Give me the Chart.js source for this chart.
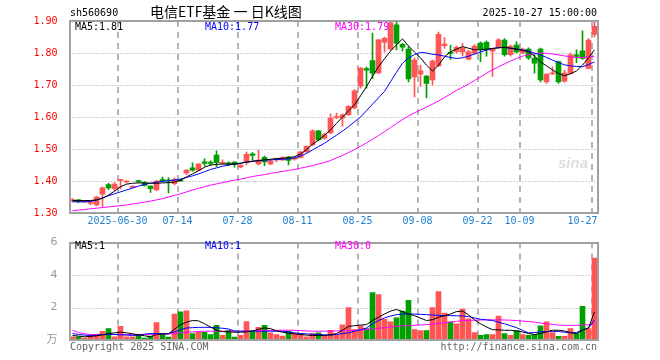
<!DOCTYPE html>
<html>
<head>
<meta charset="utf-8">
<title>电信ETF基金 日K线图</title>
<script src="https://cdn.jsdelivr.net/npm/chart.js@4.4.0/dist/chart.umd.min.js"></script>
<style>
html, body { margin: 0; padding: 0; background: #fff; }
#wrap { position: relative; width: 660px; height: 360px; }
canvas { position: absolute; left: 0; }
#kline { top: 0; }
#vol { top: 232px; }
</style>
</head>
<body>
<div id="wrap">
  <canvas id="kline" width="660" height="232"></canvas>
  <canvas id="vol" width="660" height="128"></canvas>
</div>
<script>
// 交易日
const dates = [
  '06-18','06-19','06-20','06-23','06-24','06-25','06-26','06-27','06-30',
  '07-01','07-02','07-03','07-04','07-07','07-08','07-09','07-10','07-11','07-14',
  '07-15','07-16','07-17','07-18','07-21','07-22','07-23','07-24','07-25','07-28',
  '07-29','07-30','07-31','08-01','08-04','08-05','08-06','08-07','08-08','08-11',
  '08-12','08-13','08-14','08-15','08-18','08-19','08-20','08-21','08-22','08-25',
  '08-26','08-27','08-28','08-29','09-01','09-02','09-03','09-04','09-05','09-08',
  '09-09','09-10','09-11','09-12','09-15','09-16','09-17','09-18','09-19','09-22',
  '09-23','09-24','09-25','09-26','09-29','09-30','10-09',
  '10-10','10-13','10-14','10-15','10-16','10-17','10-20','10-21','10-22','10-23','10-24','10-27'
];
const tickDates = ['06-30','07-14','07-28','08-11','08-25','09-08','09-22','10-09','10-27'];
const tickText = ['2025-06-30','07-14','07-28','08-11','08-25','09-08','09-22','10-09','10-27'];

const open = [
  1.338,1.341,1.335,1.330,1.325,1.359,1.389,1.376,1.402,1.397,
  1.380,1.400,1.395,1.384,1.372,1.403,1.403,1.392,1.402,1.425,
  1.441,1.434,1.460,1.459,1.481,1.455,1.457,1.459,1.444,1.457,
  1.485,1.453,1.474,1.453,1.466,1.466,1.475,1.468,1.474,1.491,
  1.513,1.557,1.534,1.550,1.598,1.597,1.607,1.628,1.696,1.751,
  1.776,1.738,1.834,1.813,1.888,1.827,1.812,1.725,1.734,1.728,
  1.716,1.760,1.823,1.801,1.804,1.803,1.781,1.800,1.831,1.833,
  1.806,1.818,1.840,1.795,1.825,1.800,1.812,1.783,1.812,1.710,
  1.735,1.773,1.712,1.737,1.794,1.807,1.752,1.858
];
const high = [
  1.345,1.343,1.338,1.337,1.352,1.381,1.393,1.395,1.406,1.401,
  1.386,1.403,1.398,1.386,1.402,1.412,1.411,1.410,1.405,1.436,
  1.457,1.455,1.469,1.463,1.494,1.466,1.460,1.461,1.451,1.490,
  1.489,1.497,1.478,1.466,1.472,1.476,1.477,1.475,1.493,1.510,
  1.560,1.558,1.550,1.610,1.612,1.610,1.636,1.686,1.755,1.756,
  1.862,1.843,1.850,1.899,1.900,1.830,1.820,1.785,1.762,1.730,
  1.778,1.865,1.848,1.825,1.822,1.830,1.808,1.826,1.835,1.838,
  1.815,1.845,1.845,1.825,1.835,1.815,1.816,1.796,1.815,1.735,
  1.757,1.775,1.747,1.800,1.810,1.869,1.845,1.900
];
const low = [
  1.335,1.333,1.332,1.325,1.322,1.320,1.373,1.370,1.375,1.393,
  1.378,1.395,1.384,1.364,1.370,1.398,1.363,1.388,1.398,1.420,
  1.430,1.432,1.446,1.449,1.445,1.452,1.448,1.443,1.441,1.450,
  1.464,1.450,1.448,1.450,1.460,1.464,1.450,1.465,1.472,1.489,
  1.510,1.526,1.530,1.548,1.595,1.571,1.605,1.625,1.690,1.690,
  1.720,1.735,1.803,1.810,1.810,1.806,1.710,1.663,1.695,1.660,
  1.700,1.757,1.815,1.780,1.800,1.790,1.778,1.795,1.773,1.790,
  1.727,1.815,1.790,1.790,1.800,1.797,1.780,1.737,1.710,1.705,
  1.733,1.705,1.708,1.735,1.770,1.780,1.750,1.850
];
const close = [
  1.342,1.335,1.336,1.335,1.350,1.379,1.378,1.390,1.405,1.400,
  1.383,1.398,1.386,1.376,1.400,1.401,1.400,1.405,1.400,1.434,
  1.434,1.453,1.455,1.455,1.457,1.458,1.452,1.451,1.449,1.483,
  1.480,1.465,1.460,1.462,1.470,1.473,1.464,1.472,1.491,1.508,
  1.557,1.529,1.545,1.597,1.600,1.607,1.633,1.682,1.753,1.746,
  1.737,1.841,1.846,1.894,1.830,1.818,1.719,1.778,1.744,1.705,
  1.775,1.858,1.828,1.799,1.818,1.815,1.804,1.822,1.812,1.812,
  1.812,1.841,1.795,1.821,1.803,1.812,1.785,1.768,1.716,1.734,
  1.737,1.710,1.737,1.794,1.789,1.783,1.840,1.883
];
// 成交量（万）
const volume = [
  0.20,0.20,0.12,0.28,0.34,0.54,0.70,0.20,0.84,0.20,
  0.20,0.28,0.12,0.24,1.08,0.32,0.18,1.60,1.74,1.80,
  0.40,0.48,0.48,0.34,0.90,0.28,0.60,0.18,0.28,1.14,
  0.52,0.78,0.90,0.44,0.34,0.24,0.54,0.40,0.40,0.20,
  0.40,0.44,0.28,0.60,0.34,0.94,2.00,0.64,0.88,0.70,
  2.92,2.80,1.28,1.12,1.36,1.78,2.44,0.64,0.58,0.58,
  2.00,2.98,1.66,1.12,1.00,1.90,1.30,0.46,0.28,0.34,
  0.34,1.48,0.40,0.28,0.58,0.34,0.28,0.34,0.88,1.12,
  0.46,0.22,0.22,0.70,0.40,2.08,0.70,5.04
];

const ma5 = [
  1.339,1.339,1.339,1.339,1.341,1.346,1.356,1.368,1.382,1.390,
  1.393,1.394,1.394,1.393,1.393,1.394,1.395,1.397,1.402,1.413,
  1.422,1.432,1.443,1.450,1.452,1.453,1.453,1.453,1.455,1.459,
  1.462,1.464,1.466,1.468,1.470,1.471,1.473,1.476,1.484,1.498,
  1.515,1.528,1.543,1.560,1.580,1.600,1.619,1.638,1.666,1.695,
  1.727,1.757,1.782,1.806,1.826,1.844,1.822,1.803,1.785,1.762,
  1.744,1.762,1.788,1.804,1.812,1.820,1.815,1.810,1.810,1.812,
  1.814,1.816,1.818,1.815,1.812,1.808,1.804,1.790,1.772,1.760,
  1.747,1.736,1.729,1.735,1.744,1.762,1.785,1.810
];
const ma10 = [
  1.335,1.335,1.335,1.336,1.340,1.347,1.354,1.360,1.366,1.372,
  1.378,1.384,1.389,1.393,1.396,1.399,1.401,1.403,1.406,1.411,
  1.416,1.422,1.429,1.436,1.441,1.446,1.450,1.453,1.456,1.459,
  1.461,1.463,1.465,1.466,1.467,1.468,1.469,1.472,1.478,1.486,
  1.497,1.508,1.518,1.531,1.543,1.556,1.570,1.585,1.600,1.620,
  1.640,1.660,1.680,1.710,1.740,1.768,1.785,1.795,1.802,1.800,
  1.796,1.794,1.790,1.786,1.783,1.785,1.790,1.797,1.803,1.809,
  1.814,1.817,1.817,1.815,1.812,1.810,1.806,1.800,1.794,1.786,
  1.778,1.770,1.763,1.760,1.758,1.757,1.764,1.772
];
const ma30 = [
  1.307,1.309,1.311,1.313,1.315,1.317,1.319,1.321,1.323,1.325,
  1.328,1.331,1.334,1.337,1.341,1.345,1.350,1.355,1.360,1.366,
  1.372,1.377,1.382,1.387,1.391,1.395,1.399,1.403,1.406,1.410,
  1.414,1.417,1.420,1.424,1.427,1.430,1.433,1.436,1.440,1.444,
  1.448,1.453,1.458,1.464,1.472,1.480,1.489,1.498,1.508,1.519,
  1.530,1.542,1.554,1.567,1.580,1.592,1.603,1.613,1.622,1.631,
  1.640,1.650,1.661,1.672,1.683,1.693,1.703,1.714,1.725,1.737,
  1.747,1.757,1.766,1.775,1.783,1.790,1.795,1.798,1.800,1.799,
  1.797,1.794,1.791,1.788,1.786,1.786,1.788,1.790
];
const volMa5 = [
  0.28,0.24,0.20,0.22,0.26,0.32,0.40,0.44,0.48,0.44,
  0.38,0.32,0.26,0.20,0.34,0.36,0.38,0.66,0.94,1.10,
  1.20,1.18,1.00,0.80,0.60,0.52,0.50,0.48,0.48,0.50,
  0.56,0.66,0.74,0.70,0.56,0.48,0.42,0.38,0.34,0.30,
  0.28,0.28,0.28,0.32,0.40,0.60,0.84,0.88,0.92,0.95,
  1.20,1.40,1.60,1.78,1.88,1.75,1.60,1.50,1.35,1.20,
  1.25,1.40,1.50,1.60,1.75,1.78,1.55,1.24,1.00,0.80,
  0.64,0.62,0.60,0.60,0.56,0.50,0.40,0.34,0.40,0.50,
  0.60,0.60,0.56,0.45,0.40,0.60,0.74,1.74
];
const volMa10 = [
  0.40,0.34,0.30,0.28,0.30,0.32,0.34,0.34,0.32,0.30,
  0.28,0.30,0.36,0.40,0.40,0.40,0.40,0.50,0.64,0.74,
  0.76,0.78,0.78,0.78,0.76,0.72,0.68,0.56,0.54,0.54,
  0.54,0.54,0.54,0.54,0.54,0.54,0.50,0.44,0.40,0.38,
  0.36,0.34,0.32,0.30,0.34,0.40,0.44,0.54,0.64,0.74,
  1.00,1.20,1.36,1.48,1.56,1.60,1.60,1.60,1.58,1.56,
  1.54,1.52,1.50,1.50,1.49,1.48,1.44,1.36,1.28,1.24,
  1.20,1.10,1.00,0.88,0.76,0.60,0.44,0.46,0.50,0.52,
  0.54,0.52,0.48,0.44,0.46,0.62,0.74,1.24
];
const volMa30 = [
  0.60,0.46,0.38,0.34,0.34,0.34,0.34,0.34,0.34,0.34,
  0.34,0.34,0.34,0.34,0.35,0.36,0.37,0.40,0.44,0.48,
  0.50,0.52,0.54,0.54,0.54,0.54,0.54,0.54,0.54,0.55,
  0.56,0.57,0.58,0.60,0.60,0.60,0.60,0.60,0.58,0.56,
  0.54,0.54,0.54,0.55,0.56,0.57,0.58,0.59,0.60,0.64,
  0.68,0.72,0.76,0.80,0.84,0.87,0.89,0.91,0.93,0.95,
  0.98,1.02,1.06,1.10,1.15,1.19,1.21,1.22,1.23,1.24,
  1.24,1.24,1.23,1.22,1.20,1.17,1.14,1.10,1.05,1.00,
  0.96,0.92,0.90,0.90,0.90,0.92,0.94,1.00
];

const UP = '#ff5555';
const DOWN = '#00a000';
const FRAME = '#a0a0a0';
const MONO = '"DejaVu Sans Mono", monospace';

const candleColors = close.map((c, i) => c >= open[i] ? UP : DOWN);
const bodies = open.map((o, i) => [o, close[i]]);
const wicks = low.map((l, i) => [l, high[i]]);
const tickIdx = tickDates.map(d => dates.indexOf(d));

Chart.defaults.font.family = MONO;
Chart.defaults.font.size = 10;

function lineSet(data, color) {
    return {
        type: 'line', data: data, borderColor: color, borderWidth: 1,
        pointRadius: 0, tension: 0, fill: false, order: 0
    };
}

// 网格：日期处竖虚线，价格/成交量刻度处横点线
const gridPlugin = {
    id: 'sinaGrid',
    beforeDatasetsDraw(chart) {
        const { ctx, chartArea: a, scales: { x, y } } = chart;
        const slot = (a.right - a.left) / dates.length;
        ctx.save();
        ctx.strokeStyle = '#b4b4b4';
        ctx.lineWidth = 2;
        ctx.setLineDash([6, 5]);
        tickIdx.forEach(idx => {
            const px = Math.round(x.getPixelForValue(idx) - slot / 2);
            ctx.beginPath();
            ctx.moveTo(px, a.top);
            ctx.lineTo(px, a.bottom);
            ctx.stroke();
        });
        ctx.strokeStyle = '#a0a0a0';
        ctx.lineWidth = 1;
        ctx.setLineDash([1, 2]);
        y.ticks.forEach(t => {
            if (t.value <= y.min + 1e-6 || t.value >= y.max - 1e-6) return;
            const py = Math.round(y.getPixelForValue(t.value)) + 0.5;
            ctx.beginPath();
            ctx.moveTo(a.left, py);
            ctx.lineTo(a.right, py);
            ctx.stroke();
        });
        ctx.restore();
    }
};

function drawFrame(ctx, a) {
    const l = Math.round(a.left), t = Math.round(a.top);
    const r = Math.round(a.right), b = Math.round(a.bottom);
    ctx.strokeStyle = FRAME;
    ctx.lineWidth = 2;
    ctx.strokeRect(l, t, r - l, b - t);
}

const klineDecor = {
    id: 'klineDecor',
    afterDraw(chart) {
        const { ctx, chartArea: a, scales: { x } } = chart;
        ctx.save();
        drawFrame(ctx, a);

        // 标题
        ctx.textBaseline = 'alphabetic';
        ctx.fillStyle = '#000';
        ctx.font = '10px ' + MONO;
        ctx.textAlign = 'left';
        ctx.fillText('sh560690', 70, 16);
        ctx.textAlign = 'right';
        ctx.fillText('2025-10-27 15:00:00', 597, 16);
        ctx.textAlign = 'left';
        ctx.font = '14px "Noto Sans CJK SC"';
        ctx.fillText('电信ETF基金 一 日K线图', 150, 17);

        // 均线数值
        ctx.font = '10px ' + MONO;
        ctx.textBaseline = 'middle';
        ctx.fillStyle = '#000';
        ctx.fillText('MA5:1.81', 75, 27);
        ctx.fillStyle = '#0000ff';
        ctx.fillText('MA10:1.77', 205, 27);
        ctx.fillStyle = '#ff00ff';
        ctx.fillText('MA30:1.79', 335, 27);

        // 日期标签
        const slot = (a.right - a.left) / dates.length;
        ctx.fillStyle = '#1f7fd0';
        tickIdx.forEach((idx, k) => {
            const px = x.getPixelForValue(idx) - slot / 2;
            const w = ctx.measureText(tickText[k]).width;
            let left = px - w / 2;
            if (left + w > a.right) left = a.right - w;
            ctx.fillText(tickText[k], left, 221);
        });

        // 水印
        ctx.font = 'italic bold 15px "Liberation Sans"';
        ctx.fillStyle = '#dedede';
        ctx.fillText('sina', 558, 164);
        ctx.restore();
    }
};

const volDecor = {
    id: 'volDecor',
    afterDraw(chart) {
        const { ctx, chartArea: a } = chart;
        ctx.save();
        drawFrame(ctx, a);
        ctx.font = '10px ' + MONO;
        ctx.textBaseline = 'middle';
        ctx.textAlign = 'left';
        ctx.fillStyle = '#000';
        ctx.fillText('MA5:1', 75, 14);
        ctx.fillStyle = '#0000ff';
        ctx.fillText('MA10:1', 205, 14);
        ctx.fillStyle = '#ff00ff';
        ctx.fillText('MA30:0', 335, 14);

        ctx.fillStyle = '#666';
        ctx.fillText('Copyright 2025 SINA.COM', 70, 115);
        ctx.textAlign = 'right';
        ctx.fillText('http://finance.sina.com.cn', 597, 115);
        ctx.restore();
    }
};

const common = {
    responsive: false,
    animation: false,
    events: [],
    plugins: { legend: { display: false }, tooltip: { enabled: false } }
};

// K线图
new Chart(document.getElementById('kline'), {
    type: 'bar',
    data: {
        labels: dates,
        datasets: [
            lineSet(ma5, '#000000'),
            lineSet(ma10, '#0000ff'),
            lineSet(ma30, '#ff00ff'),
            {
                data: bodies, backgroundColor: candleColors, barThickness: 5,
                grouped: false, minBarLength: 1, order: 1
            },
            {
                data: wicks, backgroundColor: candleColors, barThickness: 1,
                grouped: false, order: 2
            }
        ]
    },
    options: Object.assign({}, common, {
        layout: { padding: { left: 0, right: 62.5, top: 21, bottom: 0 } },
        scales: {
            x: {
                offset: true,
                grid: { display: false },
                border: { display: false },
                ticks: { display: false, autoSkip: false },
                afterFit: s => { s.height = 19; }
            },
            y: {
                min: 1.3, max: 1.9,
                grid: { display: false },
                border: { display: false },
                ticks: {
                    stepSize: 0.1, color: '#ff0000', padding: 4,
                    font: { family: MONO, size: 10 },
                    callback: v => Number(v).toFixed(2)
                },
                afterFit: s => { s.width = 69.5; }
            }
        }
    }),
    plugins: [gridPlugin, klineDecor]
});

// 成交量图
new Chart(document.getElementById('vol'), {
    type: 'bar',
    data: {
        labels: dates,
        datasets: [
            lineSet(volMa5, '#000000'),
            lineSet(volMa10, '#0000ff'),
            lineSet(volMa30, '#ff00ff'),
            {
                data: volume, backgroundColor: candleColors, barThickness: 5,
                grouped: false, order: 1
            }
        ]
    },
    options: Object.assign({}, common, {
        layout: { padding: { left: 0, right: 62.5, top: 8, bottom: 0 } },
        scales: {
            x: {
                offset: true,
                grid: { display: false },
                border: { display: false },
                ticks: { display: false, autoSkip: false },
                afterFit: s => { s.height = 20; }
            },
            y: {
                min: 0, max: 6,
                grid: { display: false },
                border: { display: false },
                ticks: {
                    stepSize: 2, color: '#999999', padding: 4,
                    font: { family: '"DejaVu Sans", "Noto Sans CJK SC"', size: 11 },
                    callback: v => v === 0 ? '万' : String(v)
                },
                afterFit: s => { s.width = 69.5; }
            }
        }
    }),
    plugins: [gridPlugin, volDecor]
});
</script>
</body>
</html>
